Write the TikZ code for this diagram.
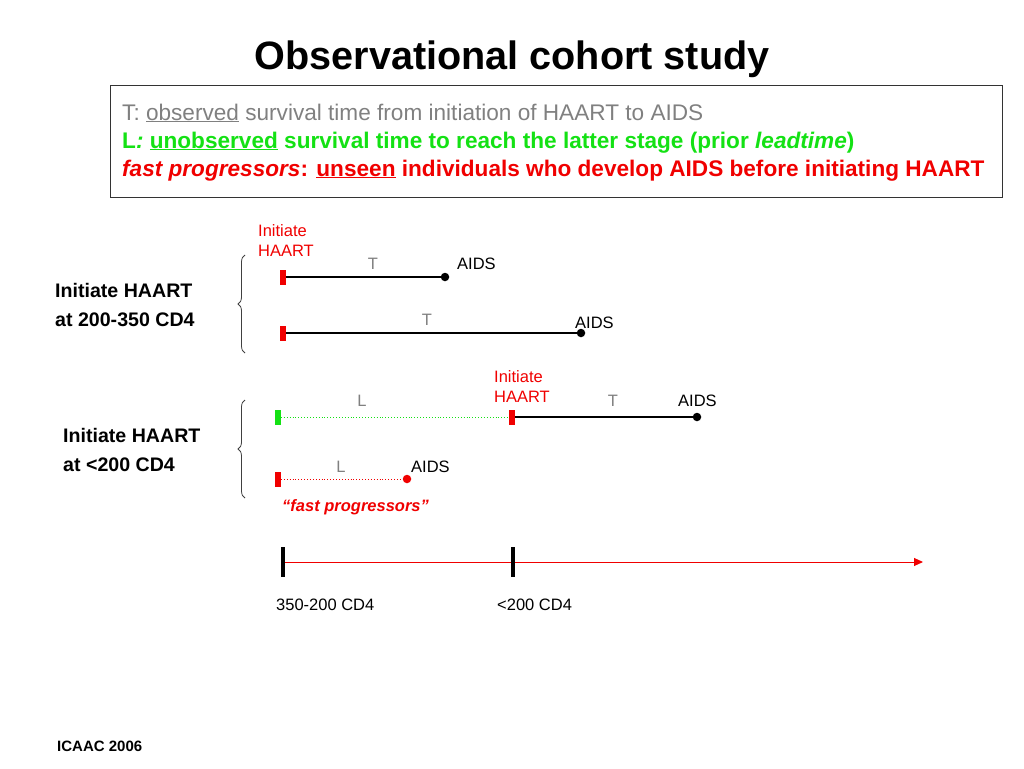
\documentclass[tikz,border=0pt]{standalone}
\usepackage{fontspec}
\setmainfont{Liberation Sans}
\usetikzlibrary{arrows.meta,decorations.pathreplacing}
\definecolor{rd}{RGB}{240,0,0}
\definecolor{gr}{RGB}{20,225,20}
\definecolor{gy}{RGB}{128,128,128}
\begin{document}
\begin{tikzpicture}[x=1pt,y=-1pt,
  lbl/.style={inner sep=0pt,anchor=base west,font=\fontsize{16.5}{20}\selectfont},
  clbl/.style={inner sep=0pt,anchor=base,font=\fontsize{16.5}{20}\selectfont,text=gy},
  boxtxt/.style={inner sep=0pt,anchor=base west,font=\fontsize{22.6}{26}\selectfont},
  grp/.style={inner sep=0pt,anchor=north west,align=left,font=\bfseries\fontsize{19.6}{29.5}\selectfont},
  init/.style={inner sep=0pt,anchor=north west,align=left,text=rd,font=\fontsize{16.5}{20}\selectfont},
  tickr/.style={fill=rd,draw=none,inner sep=0pt,minimum width=5.5pt,minimum height=15pt},
  tickg/.style={fill=gr,draw=none,inner sep=0pt,minimum width=5.5pt,minimum height=15pt},
  dotb/.style={circle,fill=black,inner sep=0pt,minimum size=8.5pt},
  dotr/.style={circle,fill=rd,inner sep=0pt,minimum size=8.5pt},
  axtick/.style={fill=black,draw=none,inner sep=0pt,minimum width=4.5pt,minimum height=30pt},
  seg/.style={line width=1.3pt,black},
  brc/.style={decorate,decoration={brace,amplitude=7pt},line width=0.8pt,black!75}
]
\useasboundingbox (0,0) rectangle (1024,768);

% title
\node[inner sep=0pt,anchor=base,font=\bfseries\fontsize{39.6}{44}\selectfont] (title) at (512,70) {Observational cohort study};

% definition box
\draw[line width=0.8pt,black!80] (110,85) rectangle (1002,197);
\node[boxtxt,text=gy] (def1) at (122,120) {T: \underline{observed} survival time from initiation of HAART to AIDS};
\node[boxtxt,text=gr,font=\bfseries\fontsize{22.6}{26}\selectfont] (def2) at (122,148) {L\textit{:} \underline{unobserved} survival time to reach the latter stage (prior \textit{leadtime})};
\node[boxtxt,text=rd,font=\bfseries\fontsize{22.6}{26}\selectfont] (def3) at (122,176) {\textit{fast progressors}: \underline{unseen} individuals who develop AIDS before initiating HAART};

% group labels
\node[grp] (grpA) at (55,283) {Initiate HAART\\at 200-350 CD4};
\node[grp] (grpB) at (63,428) {Initiate HAART\\at {<}200 CD4};
\draw[brc] (245,353) -- (245,255);
\draw[brc] (245,498) -- (245,400);

% row 1
\node[init] (init1) at (258,224) {Initiate\\HAART};
\node[tickr] (t1) at (283,277) {};
\node[dotb] (d1) at (445,277) {};
\draw[seg] (t1) -- (d1);
\node[clbl] (T1) at (373,269) {T};
\node[lbl] (A1) at (457,269) {AIDS};

% row 2
\node[tickr] (t2) at (283,333) {};
\node[dotb] (d2) at (581,333) {};
\draw[seg] (t2) -- (d2);
\node[clbl] (T2) at (427,325) {T};
\node[lbl] (A2) at (575,328) {AIDS};

% row 3
\node[tickg] (g3) at (278,417) {};
\node[tickr] (t3) at (512,417) {};
\node[dotb] (d3) at (697,417) {};
\draw[gr,line width=0.9pt,dotted] (g3) -- (t3);
\draw[seg] (t3) -- (d3);
\node[clbl] (L3) at (362,406) {L};
\node[clbl] (T3) at (613,406) {T};
\node[lbl] (A3) at (678,406) {AIDS};
\node[init] (init3) at (494,370) {Initiate\\HAART};

% row 4
\node[tickr] (t4) at (278,479) {};
\node[dotr] (d4) at (407,479) {};
\draw[rd,line width=0.9pt,dotted] (t4) -- (d4);
\node[clbl] (L4) at (341,472) {L};
\node[lbl] (A4) at (411,472) {AIDS};
\node[lbl,text=rd,font=\bfseries\itshape\fontsize{16.5}{20}\selectfont] (fp) at (282,511) {``fast progressors''};

% axis
\node[axtick] (a1) at (283,562) {};
\node[axtick] (a2) at (513,562) {};
\coordinate (aend) at (923,562);
\draw[rd,line width=1pt] (a1) -- (a2);
\draw[rd,line width=1pt,-{Triangle[length=9pt,width=8pt]}] (a2) -- (aend);
\node[lbl] (x1) at (276,610) {350-200 CD4};
\node[lbl] (x2) at (497,610) {{<}200 CD4};

% footer
\node[inner sep=0pt,anchor=base west,font=\bfseries\fontsize{15}{18}\selectfont] (foot) at (57,751) {ICAAC 2006};
\end{tikzpicture}
\end{document}
